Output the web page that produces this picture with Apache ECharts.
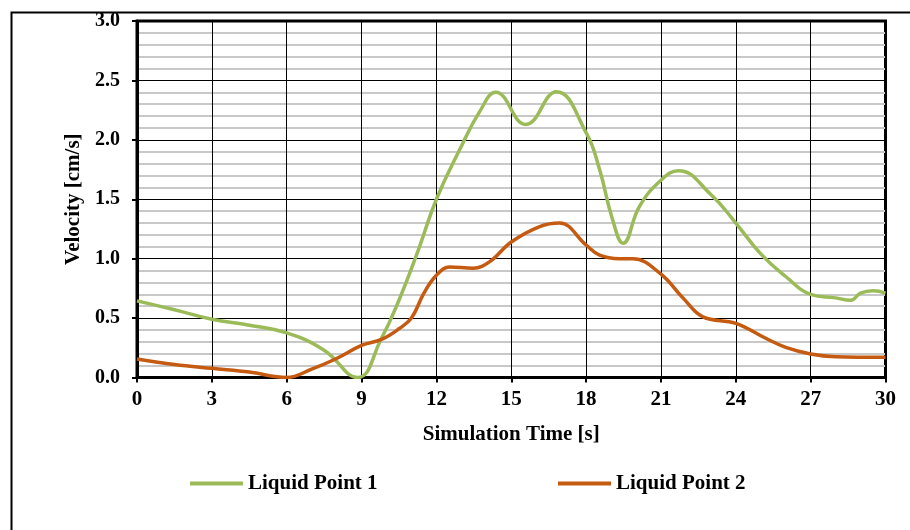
<!DOCTYPE html>
<html>
<head>
<meta charset="utf-8">
<script src="https://cdn.jsdelivr.net/npm/echarts@6/dist/echarts.min.js"></script>
<style>
html,body{margin:0;padding:0;background:#fff;}
#c{width:910px;height:530px;}
</style>
</head>
<body>
<div id="c"></div>
<script>
// Data
const xTicks = [0, 3, 6, 9, 12, 15, 18, 21, 24, 27, 30];
const yTicks = [0.0, 0.5, 1.0, 1.5, 2.0, 2.5, 3.0];

const point1Time = [0, 1.5, 3, 4.5, 6, 7.5, 8.84, 9.8, 10.5, 11.27, 12, 12.94, 13.74, 14.38, 15.58, 16.81, 18, 18.54, 19.06, 19.48, 20.14, 21, 21.7, 23, 24, 25, 26, 27, 28, 28.6, 29, 29.5, 30];
const point1Vel  = [0.645, 0.57, 0.49, 0.44, 0.375, 0.23, 0.0, 0.33, 0.65, 1.07, 1.5, 1.92, 2.24, 2.40, 2.13, 2.405, 2.06, 1.75, 1.33, 1.13, 1.44, 1.66, 1.74, 1.54, 1.30, 1.04, 0.85, 0.70, 0.67, 0.65, 0.71, 0.73, 0.71];

const point2Time = [0, 1.5, 3, 4.5, 6, 7, 8, 9, 9.8, 10.5, 11, 11.5, 12, 12.53, 13.47, 14.14, 15, 16.14, 16.94, 18, 18.54, 19.34, 19.88, 21, 21.88, 22.68, 24, 25.2, 26, 27, 28, 30];
const point2Vel  = [0.156, 0.11, 0.077, 0.046, 0.0, 0.07, 0.16, 0.27, 0.32, 0.41, 0.5, 0.71, 0.86, 0.93, 0.92, 0.975, 1.14, 1.27, 1.30, 1.115, 1.03, 1.00, 1.00, 0.87, 0.67, 0.51, 0.456, 0.33, 0.254, 0.198, 0.175, 0.17];

const seriesNames = ['Liquid Point 1', 'Liquid Point 2'];
const seriesColors = ['#9BBB59', '#C55A11'];

const zip = (a, b) => a.map((v, i) => [v, b[i]]);
const font = 'Liberation Serif';
const legendText = {fontFamily: font, fontWeight: 'bold', fontSize: 21, color: '#000'};

const chart = echarts.init(document.getElementById('c'), null, {renderer: 'canvas'});
chart.setOption({
  animation: false,
  backgroundColor: '#fff',
  graphic: [{
    type: 'rect', left: 9, top: 10, z: -10,
    shape: {x: 0, y: 0, width: 1000, height: 1000},
    style: {fill: 'none', stroke: '#000', lineWidth: 2}
  }],
  grid: {
    left: 137, right: 24.5, top: 21, bottom: 152.5,
    show: true, borderColor: '#000', borderWidth: 3, backgroundColor: 'transparent'
  },
  legend: [{
    data: [seriesNames[0]], left: 190, top: 473, padding: 0,
    icon: 'rect', itemWidth: 53, itemHeight: 4, itemGap: 5, textStyle: legendText
  }, {
    data: [seriesNames[1]], left: 558, top: 473, padding: 0,
    icon: 'rect', itemWidth: 53, itemHeight: 4, itemGap: 5, textStyle: legendText
  }],
  xAxis: {
    type: 'value', min: xTicks[0], max: xTicks[xTicks.length - 1], interval: 3,
    name: 'Simulation Time [s]', nameLocation: 'middle', nameGap: 47,
    nameTextStyle: {fontFamily: font, fontWeight: 'bold', fontSize: 21, color: '#000'},
    axisLine: {show: true, onZero: false, lineStyle: {color: '#000', width: 3}},
    axisTick: {show: true, inside: false, length: 5, lineStyle: {color: '#000', width: 2}},
    axisLabel: {margin: 12, fontFamily: font, fontWeight: 'bold', fontSize: 21, color: '#000',
      formatter: v => xTicks.includes(v) ? String(v) : ''},
    splitLine: {show: true, lineStyle: {color: '#000', width: 1}}
  },
  yAxis: {
    type: 'value', min: yTicks[0], max: yTicks[yTicks.length - 1], interval: 0.5,
    name: 'Velocity [cm/s]', nameLocation: 'middle', nameGap: 52,
    nameTextStyle: {fontFamily: font, fontWeight: 'bold', fontSize: 21, color: '#000'},
    axisLine: {show: true, lineStyle: {color: '#000', width: 3}},
    axisTick: {show: true, inside: false, length: 5, lineStyle: {color: '#000', width: 2}},
    axisLabel: {margin: 17, fontFamily: font, fontWeight: 'bold', fontSize: 20, color: '#000',
      formatter: v => v.toFixed(1)},
    minorTick: {show: false, splitNumber: 5},
    minorSplitLine: {show: true, lineStyle: {color: '#C8C8C8', width: 2}},
    splitLine: {show: true, lineStyle: {color: '#000', width: 1}}
  },
  series: [{
    name: seriesNames[0], type: 'line', data: zip(point1Time, point1Vel),
    smooth: 0.45, showSymbol: false, symbol: 'none', clip: true,
    lineStyle: {color: seriesColors[0], width: 3.5}, itemStyle: {color: seriesColors[0]}
  }, {
    name: seriesNames[1], type: 'line', data: zip(point2Time, point2Vel),
    smooth: 0.4, showSymbol: false, symbol: 'none', clip: true,
    lineStyle: {color: seriesColors[1], width: 3.5}, itemStyle: {color: seriesColors[1]}
  }]
});
</script>
</body>
</html>
